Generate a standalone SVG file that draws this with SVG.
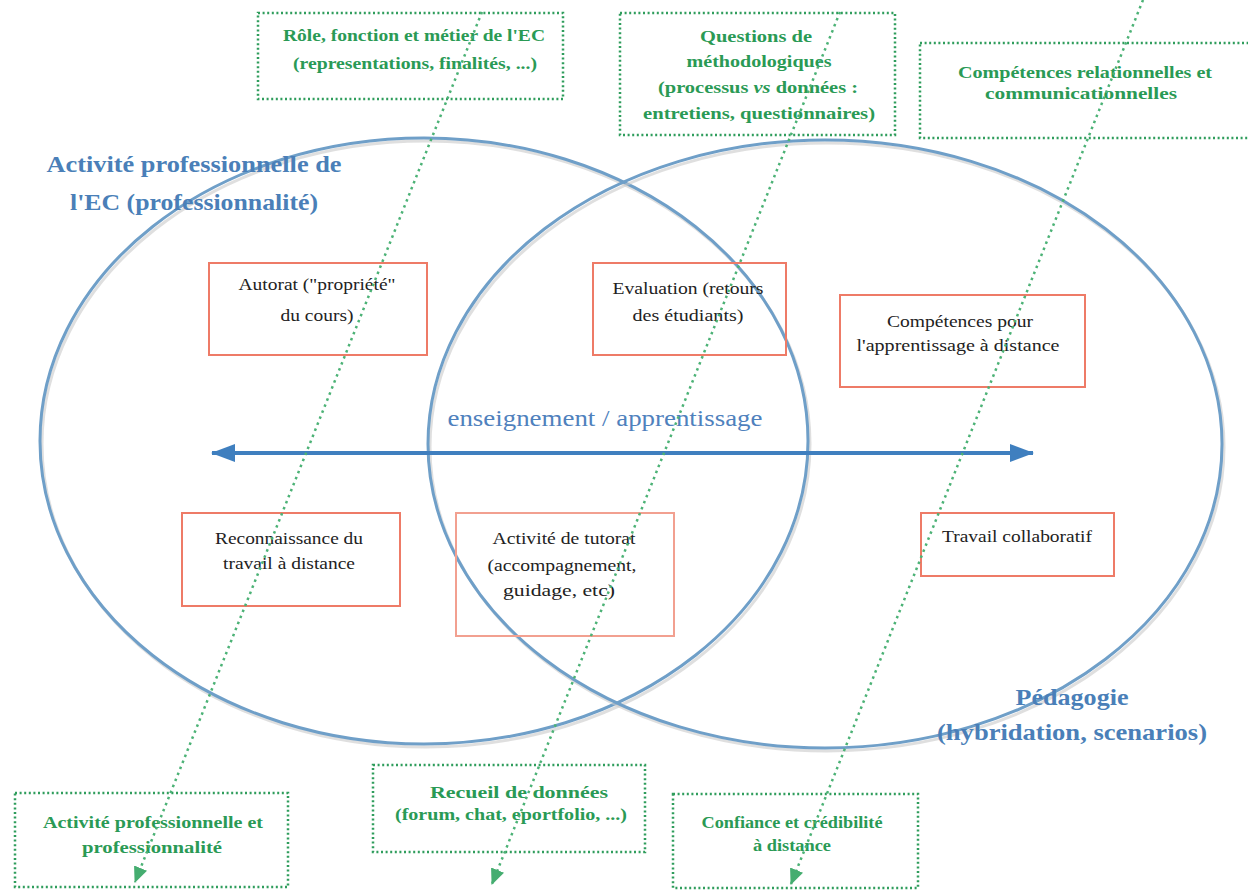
<svg xmlns="http://www.w3.org/2000/svg" width="1248" height="893" viewBox="0 0 1248 893">
<style>
.ell{fill:none;stroke:#6f9fc8;stroke-width:3}
.ellsh{fill:none;stroke:#c9c9c9;stroke-width:3;opacity:.6}
.rbox{fill:none;stroke:#ee7b67;stroke-width:2}
.gbox{fill:none;stroke:#2f9d5c;stroke-width:2.5;stroke-dasharray:2 2.6}
.bt{font-family:"Liberation Serif",serif;font-size:17.5px;fill:#222;text-anchor:middle}
.gt{font-family:"Liberation Serif",serif;font-weight:bold;font-size:17px;fill:#2a9a55;text-anchor:middle}
.title{font-family:"Liberation Serif",serif;font-weight:bold;font-size:24px;fill:#4a7fb8;text-anchor:middle}
.mid{font-family:"Liberation Serif",serif;font-size:24px;fill:#4f81bd;text-anchor:middle}
.gl{fill:none;stroke:#4cb276;stroke-width:2.5;stroke-dasharray:2.5 4;marker-end:url(#ga)}
.bl{fill:none;stroke:#3f7fbf;stroke-width:4;marker-start:url(#ba);marker-end:url(#ba)}
</style>
<defs>
<marker id="ba" markerUnits="userSpaceOnUse" markerWidth="24" markerHeight="18" refX="23" refY="9" orient="auto-start-reverse"><path d="M0,0 L24,9 L0,18 z" fill="#3f7fbf"/></marker>
<marker id="ga" markerUnits="userSpaceOnUse" markerWidth="16" markerHeight="14" refX="15" refY="7" orient="auto"><path d="M0,0 L16,7 L0,14 z" fill="#45ad70"/></marker>
</defs>
<rect width="1248" height="893" fill="#fff"/>

<g id="ellipse-left">
<ellipse class="ellsh" cx="426" cy="444" rx="384" ry="303"/>
<ellipse class="ell" cx="424" cy="441" rx="384" ry="303"/>
</g>
<g id="ellipse-right">
<ellipse class="ellsh" cx="827" cy="447" rx="397" ry="304"/>
<ellipse class="ell" cx="825" cy="444" rx="397" ry="304"/>
</g>

<g id="title-left"><text class="title" x="194" y="172" textLength="295" lengthAdjust="spacingAndGlyphs">Activité professionnelle de</text><text class="title" x="194" y="210" textLength="248" lengthAdjust="spacingAndGlyphs">l'EC (professionnalité)</text></g>
<g id="title-right"><text class="title" x="1072" y="705" textLength="113" lengthAdjust="spacingAndGlyphs">Pédagogie</text><text class="title" x="1072" y="740" textLength="270" lengthAdjust="spacingAndGlyphs">(hybridation, scenarios)</text></g>

<g id="box-autorat"><rect class="rbox" x="209" y="263" width="218" height="92"/><text class="bt" x="317" y="290" textLength="157" lengthAdjust="spacingAndGlyphs">Autorat ("propriété"</text><text class="bt" x="317" y="321" textLength="73" lengthAdjust="spacingAndGlyphs">du cours)</text></g>
<g id="box-evaluation"><rect class="rbox" x="593" y="263" width="193" height="92"/><text class="bt" x="688" y="294" textLength="151" lengthAdjust="spacingAndGlyphs">Evaluation (retours</text><text class="bt" x="688" y="321" textLength="111" lengthAdjust="spacingAndGlyphs">des étudiants)</text></g>
<g id="box-competences"><rect class="rbox" x="840" y="295" width="245" height="92"/><text class="bt" x="960" y="327" textLength="146" lengthAdjust="spacingAndGlyphs">Compétences  pour</text><text class="bt" x="958" y="351" textLength="203" lengthAdjust="spacingAndGlyphs">l'apprentissage à distance</text></g>
<g id="box-reconnaissance"><rect class="rbox" x="182" y="513" width="218" height="93"/><text class="bt" x="289" y="544" textLength="148" lengthAdjust="spacingAndGlyphs">Reconnaissance du</text><text class="bt" x="289" y="569" textLength="132" lengthAdjust="spacingAndGlyphs">travail à distance</text></g>
<g id="box-tutorat"><rect class="rbox" x="456" y="513" width="218" height="123" style="stroke:#f2a090"/><text class="bt" x="564" y="544" textLength="143" lengthAdjust="spacingAndGlyphs">Activité de tutorat</text><text class="bt" x="562" y="571" textLength="149" lengthAdjust="spacingAndGlyphs">(accompagnement,</text><text class="bt" x="559" y="596" textLength="112" lengthAdjust="spacingAndGlyphs">guidage, etc)</text></g>
<g id="box-travail"><rect class="rbox" x="921" y="513" width="193" height="63"/><text class="bt" x="1017" y="542" textLength="150" lengthAdjust="spacingAndGlyphs">Travail collaboratif</text></g>

<g id="label-mid"><text class="mid" x="605" y="426" textLength="315" lengthAdjust="spacingAndGlyphs">enseignement / apprentissage</text></g>

<g id="gbox-role"><rect class="gbox" x="258" y="13" width="305" height="86"/><text class="gt" x="414" y="41" textLength="262" lengthAdjust="spacingAndGlyphs">Rôle, fonction et métier de  l'EC</text><text class="gt" x="415" y="69" textLength="244" lengthAdjust="spacingAndGlyphs">(representations, finalités, ...)</text></g>
<g id="gbox-questions"><rect class="gbox" x="620" y="13" width="275" height="122"/><text class="gt" x="756" y="42" textLength="112" lengthAdjust="spacingAndGlyphs">Questions  de</text><text class="gt" x="759" y="67" textLength="145" lengthAdjust="spacingAndGlyphs">méthodologiques</text><text class="gt" x="758" y="93" textLength="200" lengthAdjust="spacingAndGlyphs">(processus <tspan font-style="italic">vs</tspan> données  :</text><text class="gt" x="759" y="119" textLength="232" lengthAdjust="spacingAndGlyphs">entretiens, questionnaires)</text></g>
<g id="gbox-relationnelles"><rect class="gbox" x="920" y="43" width="330" height="95"/><text class="gt" x="1085" y="78" textLength="254" lengthAdjust="spacingAndGlyphs">Compétences relationnelles et</text><text class="gt" x="1081" y="99" textLength="192" lengthAdjust="spacingAndGlyphs">communicationnelles</text></g>
<g id="gbox-activite"><rect class="gbox" x="15" y="793" width="273" height="94"/><text class="gt" x="153" y="828" textLength="220" lengthAdjust="spacingAndGlyphs">Activité professionnelle et</text><text class="gt" x="152" y="853" textLength="140" lengthAdjust="spacingAndGlyphs">professionnalité</text></g>
<g id="gbox-recueil"><rect class="gbox" x="373" y="765" width="272" height="87"/><text class="gt" x="519" y="798" textLength="178" lengthAdjust="spacingAndGlyphs">Recueil de données</text><text class="gt" x="511" y="820" textLength="232" lengthAdjust="spacingAndGlyphs">(forum, chat, eportfolio, ...)</text></g>
<g id="gbox-confiance"><rect class="gbox" x="673" y="794" width="245" height="94"/><text class="gt" x="792" y="828" textLength="181" lengthAdjust="spacingAndGlyphs">Confiance et crédibilité</text><text class="gt" x="792" y="851" textLength="78" lengthAdjust="spacingAndGlyphs">à distance</text></g>

<g id="connectors">
<line class="bl" x1="212" y1="453" x2="1033" y2="453"/>
<line class="gl" x1="482" y1="12" x2="135" y2="882"/>
<line class="gl" x1="840" y1="12" x2="492" y2="884"/>
<line class="gl" x1="1143" y1="0" x2="791" y2="884"/>
</g>
</svg>
